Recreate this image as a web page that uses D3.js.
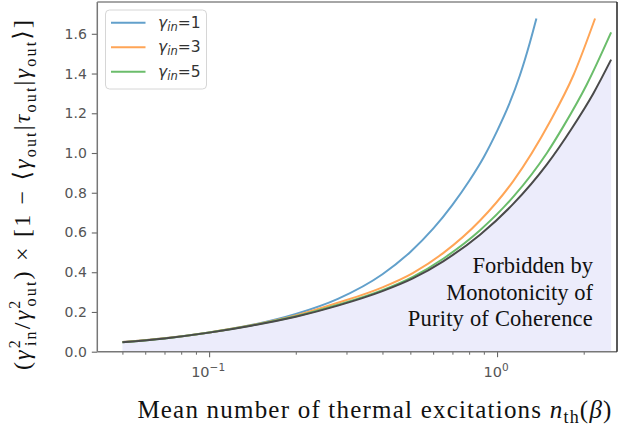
<!DOCTYPE html>
<html>
<head>
<meta charset="utf-8">
<script src="https://cdn.jsdelivr.net/npm/d3@7"></script>
<style>
  body { margin: 0; background: #fff; }
</style>
</head>
<body>
<svg id="chart" width="637" height="431"></svg>
<script>
// values
var seriesNames = ["1", "3", "5"];

var nGamma1 = [0.05, 0.07, 0.1, 0.14, 0.2, 0.28, 0.4, 0.5, 0.6, 0.7, 0.8, 0.9, 1.0, 1.1, 1.2, 1.3, 1.37];
var vGamma1 = [0.049, 0.068, 0.097, 0.134, 0.19, 0.266, 0.39, 0.502, 0.619, 0.739, 0.859, 0.98, 1.11, 1.243, 1.39, 1.555, 1.677];

var nGamma3 = [0.05, 0.07, 0.1, 0.14, 0.2, 0.28, 0.4, 0.51, 0.65, 0.873, 1.14, 1.53, 1.84, 2.19];
var vGamma3 = [0.0485, 0.0675, 0.097, 0.133, 0.182, 0.246, 0.324, 0.396, 0.496, 0.66, 0.86, 1.16, 1.39, 1.677];

var nGamma5 = [0.05, 0.07, 0.1, 0.14, 0.2, 0.28, 0.4, 0.51, 0.65, 0.873, 1.14, 1.49, 1.70, 2.05, 2.49];
var vGamma5 = [0.048, 0.067, 0.0965, 0.132, 0.178, 0.236, 0.31, 0.377, 0.468, 0.611, 0.78, 1.0, 1.134, 1.345, 1.607];

// lower bound (black line, edge of the shaded region)
var nBound = [0.05, 0.07, 0.1, 0.14, 0.2, 0.28, 0.4, 0.51, 0.65, 0.873, 1.14, 1.49, 1.82, 2.16, 2.49];
var vBound = [0.048, 0.067, 0.096, 0.131, 0.176, 0.232, 0.305, 0.369, 0.455, 0.589, 0.745, 0.943, 1.125, 1.30, 1.47];

var yTicks = [0, 0.2, 0.4, 0.6, 0.8, 1.0, 1.2, 1.4, 1.6];
var xMajor = [0.1, 1];
var xMajorExp = ["\u22121", "0"];
var xMinor = [0.05, 0.06, 0.07, 0.08, 0.09, 0.2, 0.3, 0.4, 0.5, 0.6, 0.7, 0.8, 0.9, 2];
var noteLines = ["Forbidden by", "Monotonicity of", "Purity of Coherence"];

var colors = ["#62a0cb", "#ffa556", "#6bbd6b"];
var boundColor = "#4a4a4a";

var svg = d3.select("#chart");

var plotL = 97.3, plotR = 617, plotT = 2, plotB = 351.7;

var x = d3.scaleLog().domain([0.0409, 2.61]).range([plotL, plotR]);
var y = d3.scaleLinear().domain([0, 1.76]).range([plotB, plotT]);

function zipPts(ns, vs) {
  return ns.map(function(n, i) { return [n, vs[i]]; });
}

// stretch a text to a given length by letter spacing
function fitWidth(t, target) {
  var len = t.node().getComputedTextLength();
  var chars = t.text().length;
  if (chars > 1) t.style("letter-spacing", ((target - len) / (chars - 1)) + "px");
}

var line = d3.line()
  .x(function(d) { return x(d[0]); })
  .y(function(d) { return y(d[1]); })
  .curve(d3.curveMonotoneX);

var area = d3.area()
  .x(function(d) { return x(d[0]); })
  .y0(y(0))
  .y1(function(d) { return y(d[1]); })
  .curve(d3.curveMonotoneX);

// shaded forbidden region
var boundPts = zipPts(nBound, vBound);
svg.append("path")
  .datum(boundPts)
  .attr("d", area)
  .style("fill", "#ececfb")
  .style("stroke", "none");

// note text
var serif = "'Liberation Serif', 'DejaVu Serif', serif";
noteLines.forEach(function(s, i) {
  var t = svg.append("text")
    .attr("x", 593).attr("y", 273 + i * 26.5)
    .attr("text-anchor", "end")
    .style("font-family", serif)
    .style("font-size", "22.5px")
    .style("fill", "#111")
    .text(s);
  if (i == 2) fitWidth(t, 185);
});

// curves
var allSeries = [zipPts(nGamma1, vGamma1), zipPts(nGamma3, vGamma3), zipPts(nGamma5, vGamma5)];
allSeries.forEach(function(pts, i) {
  svg.append("path")
    .datum(pts)
    .attr("d", line)
    .style("fill", "none")
    .style("stroke", colors[i])
    .style("stroke-width", 2);
});
svg.append("path")
  .datum(boundPts)
  .attr("d", line)
  .style("fill", "none")
  .style("stroke", boundColor)
  .style("stroke-width", 2);

// axes
var tickFont = "'DejaVu Sans', sans-serif";
var yAxis = d3.axisLeft(y).tickValues(yTicks).tickFormat(d3.format(".1f")).tickSize(5.5).tickPadding(5);
var gy = svg.append("g").attr("transform", "translate(" + plotL + ",0)").call(yAxis);
gy.select(".domain").remove();
gy.selectAll("line").style("stroke", "#666").style("stroke-width", 1.1);
gy.selectAll("text").style("font-family", tickFont).style("font-size", "14px").style("fill", "#555");

var xAxisMinor = d3.axisBottom(x).tickValues(xMinor).tickFormat("").tickSize(3);
var gxm = svg.append("g").attr("transform", "translate(0," + plotB + ")").call(xAxisMinor);
gxm.select(".domain").remove();
gxm.selectAll("line").style("stroke", "#666").style("stroke-width", 1);

var xAxis = d3.axisBottom(x).tickValues(xMajor).tickFormat("").tickSize(5.5);
var gx = svg.append("g").attr("transform", "translate(0," + plotB + ")").call(xAxis);
gx.select(".domain").remove();
gx.selectAll("line").style("stroke", "#666").style("stroke-width", 1.1);

xMajor.forEach(function(v, i) {
  var t = svg.append("text")
    .attr("x", x(v) - 1)
    .attr("y", plotB + 25)
    .attr("text-anchor", "middle")
    .style("font-family", tickFont)
    .style("font-size", "14.5px")
    .style("fill", "#555");
  t.append("tspan").text("10");
  t.append("tspan").attr("dy", -6).style("font-size", "10.5px").text(xMajorExp[i]);
});

// spines
svg.append("line").attr("x1", plotL).attr("x2", plotL).attr("y1", plotT).attr("y2", plotB)
  .style("stroke", "#777").style("stroke-width", 1.5);
svg.append("line").attr("x1", plotL).attr("x2", plotR).attr("y1", plotB).attr("y2", plotB)
  .style("stroke", "#777").style("stroke-width", 1.5);
svg.append("line").attr("x1", plotL).attr("x2", plotR).attr("y1", plotT).attr("y2", plotT)
  .style("stroke", "#888").style("stroke-width", 1.5);
svg.append("line").attr("x1", plotR).attr("x2", plotR).attr("y1", plotT).attr("y2", plotB)
  .style("stroke", "#222").style("stroke-width", 1.5);

// legend
var lg = svg.append("g");
lg.append("rect")
  .attr("x", 105.5).attr("y", 10).attr("width", 101).attr("height", 79)
  .attr("rx", 4)
  .style("fill", "#fff").style("fill-opacity", 0.85)
  .style("stroke", "#d6d6d6").style("stroke-width", 1);
seriesNames.forEach(function(name, i) {
  var ly = 22.7 + i * 24.5;
  lg.append("line")
    .attr("x1", 111).attr("x2", 145.5).attr("y1", ly).attr("y2", ly)
    .style("stroke", colors[i]).style("stroke-width", 2);
  var t = lg.append("text")
    .attr("x", 158).attr("y", ly + 5)
    .style("font-family", tickFont)
    .style("font-size", "15.5px")
    .style("fill", "#333");
  t.append("tspan").style("font-style", "italic").text("\u03b3");
  t.append("tspan").attr("dy", 3).style("font-style", "italic").style("font-size", "11.5px").text("in");
  t.append("tspan").attr("dy", -3).text("=" + name);
});

function piece(t, txt, opt) {
  opt = opt || {};
  var s = t.append("tspan").text(txt);
  if (opt.it) s.style("font-style", "italic");
  if (opt.size) s.style("font-size", opt.size + "px");
  if (opt.dy) s.attr("dy", opt.dy);
  if (opt.dx) s.attr("dx", opt.dx);
  return s;
}

// y label (rotated)
var yl = svg.append("text")
  .attr("transform", "translate(30,194) rotate(-90)")
  .attr("text-anchor", "middle")
  .style("font-family", serif)
  .style("font-size", "24px")
  .style("fill", "#111");
piece(yl, "(");
piece(yl, "\u03b3", {it: true});
piece(yl, "2", {size: 16, dy: -10});
piece(yl, "in", {size: 16, dy: 16, dx: -8});
piece(yl, "/", {dy: -6});
piece(yl, "\u03b3", {it: true});
piece(yl, "2", {size: 16, dy: -10});
piece(yl, "out", {size: 16, dy: 16, dx: -8});
piece(yl, ") \u00d7 [1 \u2212 \u27e8", {dy: -6});
piece(yl, "\u03b3", {it: true});
piece(yl, "out", {size: 16, dy: 6});
piece(yl, "|", {dy: -6});
piece(yl, "\u03c4", {it: true});
piece(yl, "out", {size: 16, dy: 6});
piece(yl, "|", {dy: -6});
piece(yl, "\u03b3", {it: true});
piece(yl, "out", {size: 16, dy: 6});
piece(yl, "\u27e9]", {dy: -6});
fitWidth(yl, 366);

// x label
var xl = svg.append("text")
  .attr("x", 375).attr("y", 418)
  .attr("text-anchor", "middle")
  .style("font-family", serif)
  .style("font-size", "25px")
  .style("fill", "#111");
piece(xl, "Mean number of thermal excitations ");
piece(xl, "n", {it: true});
piece(xl, "th", {size: 18, dy: 5});
piece(xl, "(", {dy: -5});
piece(xl, "\u03b2", {it: true});
piece(xl, ")");
fitWidth(xl, 474);
</script>
</body>
</html>
